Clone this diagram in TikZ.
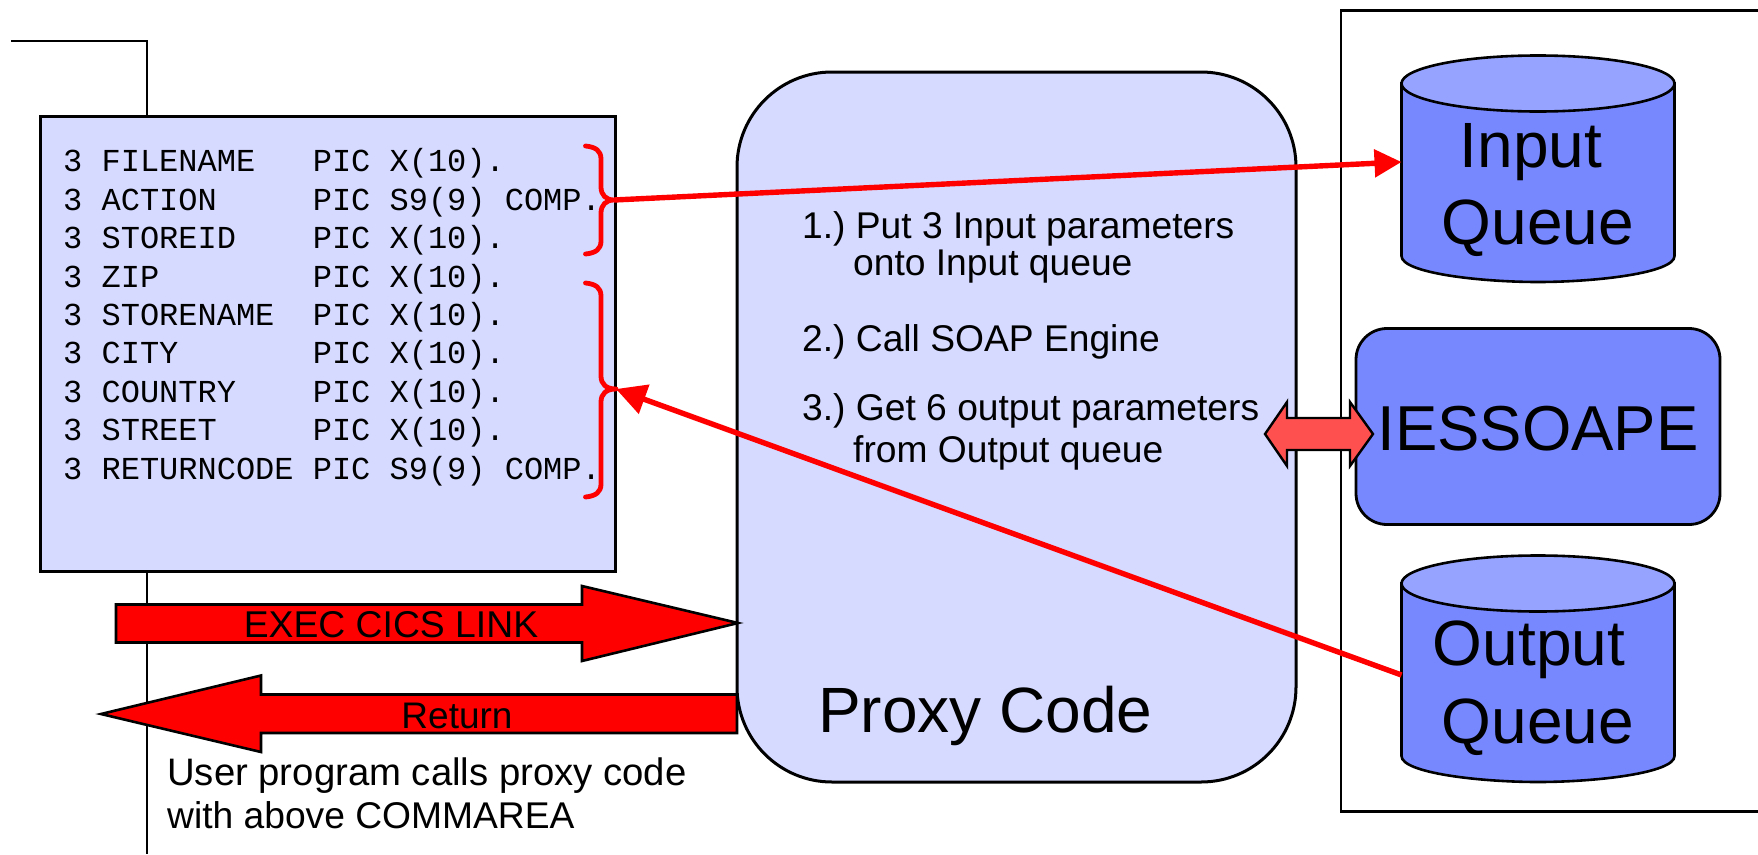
\documentclass[tikz,border=0pt]{standalone}
\usepackage{fontspec}
\setmainfont{Liberation Sans}
\newfontfamily\codefont{Liberation Mono}
\usetikzlibrary{arrows.meta}
\definecolor{paleblue}{HTML}{D6DAFF}
\definecolor{midblue}{HTML}{7788FF}
\definecolor{topblue}{HTML}{96A3FF}
\definecolor{softred}{HTML}{FF5050}
\frenchspacing
\tikzset{
  x=1pt,y=-1pt,
  frameline/.style={draw=black,line width=2.6pt},
  panel/.style={draw=black,line width=3pt,fill=paleblue,inner sep=0pt,outer sep=0pt},
  solidbox/.style={draw=black,line width=2.8pt,fill=midblue,inner sep=0pt,outer sep=0pt},
  bigarrow/.style={draw=black,line width=2.6pt,fill=red,line join=miter},
  brace/.style={draw=red,line width=4.8pt,line cap=round,line join=round},
  redlink/.style={draw=red,line width=5.4pt},
  body37/.style={inner sep=0pt,font=\fontsize{37.2}{44}\selectfont,anchor=base west,align=left},
  big64/.style={inner sep=0pt,font=\fontsize{64}{72}\selectfont},
}
\newcommand{\queueshape}[2]{%
  \path[fill=midblue,draw=black,line width=2.6pt]
    (1401.5,#1+28) -- (1401.5,#2)
    .. controls (1401.5,#2+17) and (1480,#2+26) .. (1538,#2+26)
    .. controls (1596,#2+26) and (1674.5,#2+17) .. (1674.5,#2)
    -- (1674.5,#1+28) -- cycle;
  \path[fill=topblue,draw=black,line width=2.6pt]
    (1538,#1+28) ellipse [x radius=136.5,y radius=28];
}
\begin{document}
\begin{tikzpicture}
\useasboundingbox (0,0) rectangle (1758,854);
\fill[white] (0,0) rectangle (1758,854);
% frames
\draw[frameline] (11,41) -- (147,41) -- (147,854);
\draw[frameline] (1758,10.5) -- (1341,10.5) -- (1341,811.5) -- (1758,811.5);
% COMMAREA panel
\node[panel,minimum width=575pt,minimum height=455pt] (commarea) at (328,343.5) {};
\node[inner sep=0pt,anchor=north west,align=left,font=\codefont\fontsize{32}{38.4}\selectfont] (fields) at (63,148.5) {%
3 FILENAME~~~PIC X(10).\\
3 ACTION~~~~~PIC S9(9) COMP.\\
3 STOREID~~~~PIC X(10).\\
3 ZIP~~~~~~~~PIC X(10).\\
3 STORENAME~~PIC X(10).\\
3 CITY~~~~~~~PIC X(10).\\
3 COUNTRY~~~~PIC X(10).\\
3 STREET~~~~~PIC X(10).\\
3 RETURNCODE PIC S9(9) COMP.};
% proxy
\node[panel,rounded corners=95pt,minimum width=559pt,minimum height=710pt] (proxy) at (1016.5,427) {};
\node[body37] (s1a) at (802,238) {1.) Put 3 Input parameters};
\node[body37] (s1b) at (853,275) {onto Input queue};
\node[body37] (s2) at (802,351) {2.) Call SOAP Engine};
\node[body37] (s3a) at (802,420) {3.) Get 6 output parameters};
\node[body37] (s3b) at (853,462) {from Output queue};
\node[big64,anchor=base west] (proxylabel) at (818,732) {Proxy Code};
% queues
\queueshape{55.5}{256}
\queueshape{555.5}{756}
\node[big64] (inputq) at (1531,152) {Input};
\node[big64] (inputq2) at (1538,228) {Queue};
\node[big64] (outputq) at (1529,650) {Output};
\node[big64] (outputq2) at (1538,727) {Queue};
\coordinate (inputport) at (1401.5,162);
\coordinate (outputport) at (1401.5,675);
% engine
\node[solidbox,rounded corners=31pt,minimum width=364pt,minimum height=196pt] (engine) at (1538,426.5) {};
\node[inner sep=0pt,font=\fontsize{63.5}{72}\selectfont] (enginelabel) at (1538,429) {IESSOAPE};
% double arrow
\path[draw=black,line width=2.4pt,fill=softred]
  (1265,434) -- (1287,402) -- (1287,418) -- (1350,418) -- (1350,402) -- (1373,434)
  -- (1350,466) -- (1350,450) -- (1287,450) -- (1287,466) -- cycle;
% call arrows
\path[bigarrow] (116,604.5) -- (582,604.5) -- (582,586) -- (738,623) -- (582,661) -- (582,642.5) -- (116,642.5) -- cycle;
\path[bigarrow] (737,694.5) -- (261,694.5) -- (261,675.5) -- (101,714) -- (261,752) -- (261,733) -- (737,733) -- cycle;
\node[inner sep=0pt,font=\fontsize{37.3}{44}\selectfont] (execlabel) at (391,625) {EXEC CICS LINK};
\node[inner sep=0pt,font=\fontsize{37}{44}\selectfont] (returnlabel) at (457,716) {Return};
\node[inner sep=0pt,anchor=base west,font=\fontsize{38.3}{44}\selectfont] (u1) at (167,785) {User program calls proxy code};
\node[inner sep=0pt,anchor=base west,font=\fontsize{37.2}{44}\selectfont] (u2) at (167,828) {with above COMMAREA};
% braces
\coordinate (tipA) at (614,200);
\coordinate (tipB) at (616,389);
\draw[brace] (585.5,146) .. controls (596,147) and (601,151) .. (601,159) -- (601,187)
  .. controls (601,195) and (606,200) .. (tipA)
  .. controls (606,200) and (601,205) .. (601,213) -- (601,241)
  .. controls (601,249) and (596,253) .. (585.5,254);
\draw[brace] (585.5,283) .. controls (596,284) and (601,288) .. (601,296) -- (601,376)
  .. controls (601,384) and (606,389) .. (tipB)
  .. controls (606,389) and (601,394) .. (601,402) -- (601,484)
  .. controls (601,492) and (596,496) .. (585.5,497);
% red links
\draw[redlink,-{Triangle[length=27pt,width=27pt]}] (tipA) -- (inputport);
\draw[redlink,-{Triangle[length=30pt,width=30pt]}] (outputport) -- (tipB);
\end{tikzpicture}
\end{document}
